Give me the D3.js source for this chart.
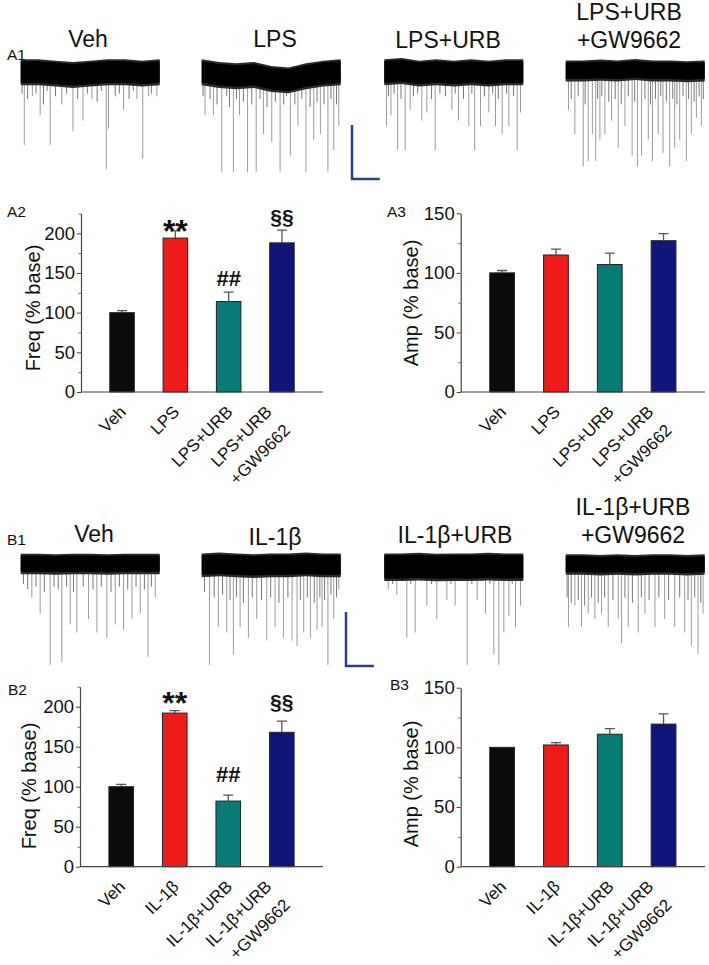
<!DOCTYPE html>
<html>
<head>
<meta charset="utf-8">
<script src="https://cdn.jsdelivr.net/npm/d3@7"></script>
<style>
body { margin: 0; background: #fff; }
svg text { font-family: "Liberation Sans", Arial, Helvetica, sans-serif; fill: #111; }
</style>
</head>
<body>
<div id="main"></div>
<script>

var width = 709,
    height = 965;

// ---- data ----

var aCats = ["Veh", "LPS", "LPS+URB", "LPS+URB\n+GW9662"];
var bCats = ["Veh", "IL-1β", "IL-1β+URB", "IL-1β+URB\n+GW9662"];

var colors = ["#0b0b0d", "#ee1b1b", "#077c77", "#10157a"];

// A2 / A3 (LPS)
var aFreq    = [100, 194, 114, 188];
var aFreqErr = [2.5, 9, 12, 16];
var aFreqSig = ["", "**", "##", "§§"];
var aFreqSigY = [0, 205, 133, 208];
var aAmp     = [100, 115, 107, 127];
var aAmpErr  = [2, 5, 9.5, 6];

// B2 / B3 (IL-1b)
var bFreq    = [100, 192, 82, 168];
var bFreqErr = [3, 3, 7.5, 14];
var bFreqSig = ["", "**", "##", "§§"];
var bFreqSigY = [0, 207, 106, 194];
var bAmp     = [100, 102, 111, 119.5];
var bAmpErr  = [0, 2, 4.7, 8.5];

var freqTicks = [0, 50, 100, 150, 200];
var freqMinor = [25, 75, 125, 175, 225];
var ampTicks  = [0, 50, 100, 150];
var ampMinor  = [25, 75, 125];

// sEPSC traces: events are [time (s), amplitude (pA)], drift is baseline (pA)
var aSpikes = [
    [[0.13,27],[0.42,9],[0.70,16],[1.06,27],[1.48,12],[1.88,22],[2.24,18],[2.56,10],
     [3.08,36],[3.16,21],[3.70,14],[4.18,10],[4.39,32],[4.60,9],[4.90,9]],
    [[0.12,16],[0.42,16],[0.72,37],[1.14,37],[1.36,16],[1.65,37],[1.96,37],[2.22,23],
     [2.52,26],[2.82,37],[3.19,31],[3.46,20],[3.75,37],[4.03,25],[4.27,23],[4.54,37],
     [4.75,29],[4.93,20]],
    [[0.08,20],[0.24,16],[0.48,29],[0.75,29],[0.93,14],[1.35,18],[1.53,15],[1.83,29],
     [2.43,14],[2.67,18],[3.04,20],[3.25,29],[3.46,20],[3.76,15],[4.00,20],[4.24,23],
     [4.48,20],[4.78,29],[4.90,15]],
    [[0.10,14],[0.33,23],[0.63,35],[0.81,33],[0.96,23],[1.08,33],[1.23,25],[1.41,23],
     [1.65,18],[1.89,28],[2.13,20],[2.39,31],[2.58,35],[2.73,31],[2.97,25],[3.12,33],
     [3.33,23],[3.50,30],[3.74,35],[3.92,28],[4.10,25],[4.34,33],[4.52,23],[4.70,17],
     [4.88,20]]
];
var aSmall = [
    [[0.05,8],[0.25,10],[0.55,8],[0.82,12],[0.95,7],[1.25,9],[1.65,8],[2.05,10],
     [2.40,8],[2.75,11],[2.90,7],[3.40,9],[3.55,8],[3.90,10],[4.05,7],[4.70,8]],
    [[0.05,9],[0.30,10],[0.55,12],[0.90,9],[1.00,13],[1.25,10],[1.50,11],[1.80,12],
     [2.10,10],[2.35,13],[2.65,11],[2.95,12],[3.05,9],[3.35,12],[3.60,10],[3.90,13],
     [4.15,11],[4.40,12],[4.65,10],[4.85,12]],
    [[0.15,9],[0.35,8],[0.60,10],[1.05,9],[1.20,8],[1.70,10],[2.00,8],[2.20,9],
     [2.55,8],[2.85,10],[3.15,8],[3.60,9],[3.90,8],[4.10,10],[4.40,8],[4.65,9]],
    [[0.20,10],[0.45,9],[0.70,12],[1.15,10],[1.30,9],[1.55,11],[1.78,10],[2.00,12],
     [2.25,9],[2.48,11],[2.85,10],[3.05,12],[3.23,10],[3.42,9],[3.62,11],[3.85,10],
     [4.00,12],[4.22,9],[4.42,10],[4.62,11],[4.80,9],[4.95,10]]
];
var aDrift = [
    [0, 0, -0.5, -1, -0.5, 0, 0, -0.5, 0],
    [0, -1, -1.5, -1, -2.5, -3, -1.5, -0.5, 0],
    [0, 0.5, -0.5, 0, -0.5, 0, -0.5, 0, 0],
    [0.5, 0.5, 0.8, 0.5, 1, 0.5, 0.5, 0.2, 0.5]
];
var aNoise = [4.3, 4.3, 4.3, 3.4];

var bSpikes = [
    [[0.40,12],[0.70,18],[1.06,37],[1.48,36],[1.78,22],[2.02,25],[2.44,20],[2.74,25],
     [3.10,27],[3.40,22],[3.70,24],[4.00,20],[4.30,18],[4.58,34],[4.84,12]],
    [[0.28,37],[0.60,23],[0.90,25],[1.14,33],[1.38,23],[1.68,27],[1.98,20],[2.34,28],
     [2.64,23],[2.94,27],[3.25,28],[3.43,30],[3.67,25],[3.91,27],[4.15,24],[4.33,23],
     [4.54,37],[4.75,20],[4.93,9]],
    [[0.14,9],[0.45,11],[0.81,27],[1.11,25],[1.53,15],[1.89,20],[2.25,13],[2.55,15],
     [2.98,37],[3.34,13],[3.64,18],[3.94,33],[4.12,37],[4.30,25],[4.48,19],[4.72,23],
     [4.90,15]],
    [[0.10,23],[0.33,15],[0.57,23],[0.81,18],[1.05,20],[1.29,18],[1.53,23],[1.89,20],
     [2.01,29],[2.25,23],[2.61,25],[2.85,18],[3.21,23],[3.56,20],[3.92,23],[4.28,25],
     [4.52,30],[4.76,33],[4.94,18]]
];
var bSmall = [
    [[0.10,7],[0.25,9],[0.55,8],[0.85,10],[1.20,8],[1.35,9],[1.65,8],[1.90,10],
     [2.25,8],[2.60,9],[2.90,8],[3.25,10],[3.55,8],[3.85,9],[4.15,8],[4.45,9],[4.70,8]],
    [[0.10,10],[0.45,12],[0.75,11],[1.02,13],[1.25,12],[1.50,14],[1.82,12],[2.15,13],
     [2.48,12],[2.78,14],[3.10,12],[3.55,13],[3.80,12],[4.05,14],[4.25,12],[4.42,13],
     [4.65,11],[4.85,12]],
    [[0.05,6],[0.30,7],[0.62,6],[0.95,7],[1.30,6],[1.70,7],[2.05,6],[2.40,7],
     [2.75,6],[3.15,7],[3.50,6],[3.80,7],[4.00,6],[4.60,7],[4.80,6]],
    [[0.05,12],[0.20,14],[0.45,13],[0.68,15],[0.93,12],[1.17,14],[1.40,12],[1.70,13],
     [2.13,12],[2.40,14],[2.72,12],[3.00,13],[3.35,12],[3.70,13],[4.10,12],[4.40,13],
     [4.64,12],[4.86,14]]
];
var bDrift = [
    [0.5, 0.5, 0.3, 0.5, 0.5, 0.3, 0.5, 0.5, 0.5],
    [0, 0.3, 0, -0.3, 0, 0, 0.3, 0, 0],
    [-0.7, -0.7, -0.5, -0.8, -0.7, -0.7, -0.5, -0.7, -0.7],
    [0.3, 0.3, 0, 0.3, 0, 0.3, 0.3, 0, 0.3]
];
var bNoise = [3.3, 3.9, 4.6, 3.3];

// ---- layout ----

var TRACE_SEC = 5, TRACE_W = 139, PX_PER_PA = 2.7;
var traceX = [20.7, 201.7, 384.3, 565.7];

var svg = d3.select("div#main")
    .append("svg")
    .attr("width", width)
    .attr("height", height);

function panelLabel(txt, x, y) {
    svg.append("text").attr("x", x).attr("y", y)
        .style("font-size", "15.5px").text(txt);
}

function traceTitle(txt, x, y) {
    var lines = txt.split("\n");
    var t = svg.append("text").attr("text-anchor", "middle").style("font-size", "23px");
    lines.forEach(function(l, i) {
        t.append("tspan").attr("x", x).attr("y", y - (lines.length - 1 - i) * 28).text(l);
    });
}

function drawTrace(x0, y0, spikes, small, drift, noise) {
    var tx = d3.scaleLinear().domain([0, TRACE_SEC]).range([x0, x0 + TRACE_W]);
    var ay = d3.scaleLinear().domain([0, -20]).range([y0, y0 + 20 * PX_PER_PA]);
    var dt = d3.range(drift.length).map(function(i) { return i * TRACE_SEC / (drift.length - 1); });
    var driftAt = d3.scaleLinear().domain(dt).range(drift);

    var g = svg.append("g");

    function events(data, col, w) {
        g.selectAll(null)
            .data(data)
            .enter().append("line")
            .attr("x1", function(d) { return tx(d[0]); })
            .attr("x2", function(d) { return tx(d[0]); })
            .attr("y1", function(d) { return ay(driftAt(d[0])); })
            .attr("y2", function(d) { return ay(-d[1]); })
            .attr("stroke", col)
            .attr("stroke-width", w);
    }
    events(spikes, "#7a7a7a", 0.75);
    events(small, "#555", 0.8);

    // soft fringe + dense noise band
    var fringe = d3.area()
        .x(function(d, i) { return tx(dt[i]); })
        .y0(function(d) { return ay(d - noise - 0.6); })
        .y1(function(d) { return ay(d + noise + 0.4); });
    g.append("path").datum(drift).attr("d", fringe).attr("fill", "#2a2a2a");

    var area = d3.area()
        .x(function(d, i) { return tx(dt[i]); })
        .y0(function(d) { return ay(d - noise + 0.3); })
        .y1(function(d) { return ay(d + noise - 0.3); });
    g.append("path").datum(drift).attr("d", area).attr("fill", "#000");

    return { tx: tx, ay: ay };
}

function scaleBar(x, y, sc) {
    var w = sc.tx(1) - sc.tx(0),
        h = sc.ay(-20) - sc.ay(0);
    svg.append("path")
        .attr("d", "M" + x + "," + (y - h) + "V" + y + "H" + (x + w))
        .attr("fill", "none")
        .attr("stroke", "#2b3d8c")
        .attr("stroke-width", 2.5);
}

function drawBars(c) {
    var x = d3.scaleBand().domain(d3.range(c.values.length))
        .range(c.xr).paddingInner(0.54).paddingOuter(0.54);
    var y = d3.scaleLinear().domain([0, c.max]).range(c.yr);

    var g = svg.append("g");

    g.selectAll("rect.bar")
        .data(c.values)
        .enter().append("rect")
        .attr("class", "bar")
        .attr("x", function(d, i) { return x(i); })
        .attr("width", x.bandwidth())
        .attr("y", function(d) { return y(d); })
        .attr("height", function(d) { return y(0) - y(d); })
        .attr("fill", function(d, i) { return colors[i]; })
        .attr("stroke", "#222")
        .attr("stroke-width", 1);

    // error bars (upper only)
    c.values.forEach(function(v, i) {
        if (!c.errs[i]) return;
        var cx = x(i) + x.bandwidth() / 2;
        g.append("path")
            .attr("d", "M" + cx + "," + y(v) + "V" + y(v + c.errs[i]) +
                "M" + (cx - 5) + "," + y(v + c.errs[i]) + "H" + (cx + 5))
            .attr("stroke", "#555")
            .attr("stroke-width", 1.3)
            .attr("fill", "none");
    });

    // y axis
    var ax = g.append("g")
        .attr("transform", "translate(" + c.xr[0] + ",0)")
        .call(d3.axisLeft(y).tickValues(c.ticks).tickSize(4).tickSizeOuter(0).tickPadding(2));
    ax.selectAll("text").style("font-size", "18.5px").style("fill", "#111");
    ax.select(".domain").attr("stroke", "#444").attr("stroke-width", 1.2);
    ax.selectAll(".tick line").attr("stroke", "#444");

    g.append("g")
        .attr("transform", "translate(" + c.xr[0] + ",0)")
        .call(d3.axisLeft(y).tickValues(c.minor).tickSize(2.5).tickFormat(""))
        .call(function(s) { s.select(".domain").remove(); })
        .selectAll(".tick line").attr("stroke", "#666");

    // x baseline
    g.append("line")
        .attr("x1", c.xr[0]).attr("x2", c.xr[1])
        .attr("y1", y(0)).attr("y2", y(0))
        .attr("stroke", "#444").attr("stroke-width", 1.2);

    // y label
    g.append("text")
        .attr("transform", "translate(" + c.labelX + "," + c.labelY + ") rotate(-90)")
        .attr("text-anchor", "middle")
        .style("font-size", "20px")
        .text(c.label);

    // category labels
    c.cats.forEach(function(cat, i) {
        var cx = x(i) + x.bandwidth() / 2;
        var lines = cat.split("\n");
        var t = g.append("text")
            .attr("transform", "translate(" + (cx + 5) + "," + (y(0) + 21) + ") rotate(-45)")
            .attr("text-anchor", "end")
            .style("font-size", "17px");
        lines.forEach(function(l, j) {
            t.append("tspan")
                .attr("x", lines.length > 1 ? -10 : 0)
                .attr("y", lines.length > 1 ? -10 + 26 * j : 0)
                .text(l);
        });
    });

    // significance marks
    if (c.sig) {
        c.sig.forEach(function(s, i) {
            if (!s) return;
            var cx = x(i) + x.bandwidth() / 2;
            var big = s === "**";
            var off = big ? 13 : (s === "§§" ? -3 : 0);
            g.append("text")
                .attr("x", cx)
                .attr("y", y(c.sigY[i]) + off)
                .attr("text-anchor", "middle")
                .style("font-size", big ? "32px" : (s === "§§" ? "21px" : "22px"))
                .style("font-weight", "bold")
                .text(s);
        });
    }
}

// ---- A ----
panelLabel("A1", 7, 60);
traceTitle(aCats[0], 88, 47);
traceTitle(aCats[1], 275, 47);
traceTitle(aCats[2], 448, 48);
traceTitle(aCats[3], 629, 48);

var aSc;
for (var i = 0; i < 4; i++) {
    aSc = drawTrace(traceX[i], 72, aSpikes[i], aSmall[i], aDrift[i], aNoise[i]);
}
scaleBar(352, 179, aSc);

panelLabel("A2", 7, 217);
drawBars({ xr: [81, 323], yr: [392, 213.5], max: 225, ticks: freqTicks, minor: freqMinor,
           values: aFreq, errs: aFreqErr, sig: aFreqSig, sigY: aFreqSigY,
           cats: aCats, label: "Freq (% base)", labelX: 40, labelY: 308 });

panelLabel("A3", 387, 217);
drawBars({ xr: [460.7, 705], yr: [392, 213.3], max: 150, ticks: ampTicks, minor: ampMinor,
           values: aAmp, errs: aAmpErr, cats: aCats,
           label: "Amp (% base)", labelX: 418, labelY: 303 });

// ---- B ----
panelLabel("B1", 7, 545);
traceTitle(bCats[0], 94, 542);
traceTitle(bCats[1], 275, 545);
traceTitle(bCats[2], 455, 543);
traceTitle(bCats[3], 633, 543);

var bSc;
for (var j = 0; j < 4; j++) {
    bSc = drawTrace(traceX[j], 565, bSpikes[j], bSmall[j], bDrift[j], bNoise[j]);
}
scaleBar(346, 666, bSc);

panelLabel("B2", 8, 695);
drawBars({ xr: [80, 323], yr: [866.7, 686.7], max: 225, ticks: freqTicks, minor: freqMinor,
           values: bFreq, errs: bFreqErr, sig: bFreqSig, sigY: bFreqSigY,
           cats: bCats, label: "Freq (% base)", labelX: 36, labelY: 786 });

panelLabel("B3", 390, 690);
drawBars({ xr: [460.7, 705], yr: [866.7, 687.7], max: 150, ticks: ampTicks, minor: ampMinor,
           values: bAmp, errs: bAmpErr, cats: bCats,
           label: "Amp (% base)", labelX: 418, labelY: 784 });

</script>
</body>
</html>
